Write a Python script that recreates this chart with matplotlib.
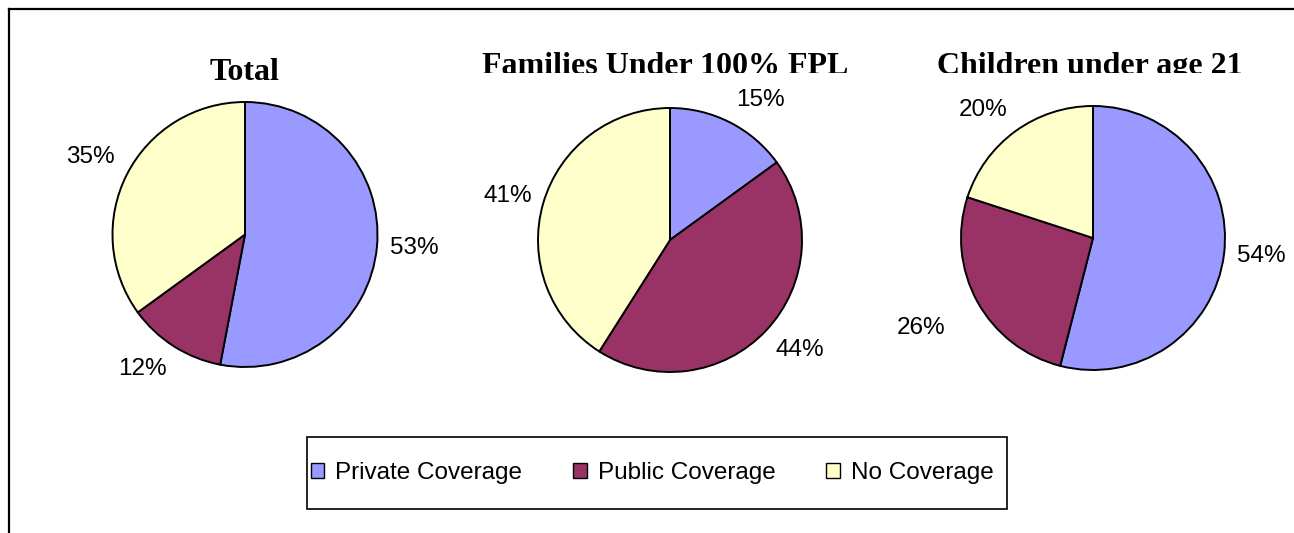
import matplotlib as mpl
mpl.use('Agg')
import matplotlib.pyplot as plt
import numpy as np
from matplotlib.patches import Patch, Rectangle
from matplotlib.lines import Line2D
from matplotlib.transforms import Bbox, TransformedBbox

# data
groups = ['Total', 'Families Under 100% FPL', 'Children under age 21']
categories = ['Private Coverage', 'Public Coverage', 'No Coverage']
private_cov = [53, 15, 54]
public_cov = [12, 44, 26]
no_cov = [35, 41, 20]

colors = ['#9999FF', '#993366', '#FFFFCC']

W, H = 1294, 533
fig = plt.figure(figsize=(W / 100, H / 100), dpi=100)
fig.patch.set_facecolor('white')

sans = ['Liberation Sans', 'DejaVu Sans']
serif = ['Liberation Serif', 'DejaVu Serif']
label_fs = 17.5

# pie layout in pixels (center x, center y from top, radius)
pie_geom = [(245, 234.5, 132.5), (670, 240, 132), (1093, 238, 132)]
# title placement: (x center, baseline from top, clip line or None)
title_geom = [(245, 80, None), (665, 74, 72.5), (1090, 74, 72.5)]
# hand-moved labels in the original: (group, slice) -> (x, y, ha, va) in radius units
label_moves = {(1, 2): (-1.045, 0.333, 'right', 'center'),
               (2, 1): (-1.12, -0.68, 'right', 'center')}

for gi, name in enumerate(groups):
    vals = [private_cov[gi], public_cov[gi], no_cov[gi]]
    cx, cy, r = pie_geom[gi]
    ax = fig.add_axes([(cx - r) / W, (H - cy - r) / H, 2 * r / W, 2 * r / H])
    wedges, _ = ax.pie(vals, colors=colors, startangle=90, counterclock=False,
                       wedgeprops=dict(edgecolor='black', linewidth=1.4))
    for w in wedges:
        w.set_clip_on(False)
    ax.set_xlim(-1, 1)
    ax.set_ylim(-1, 1)
    ax.set_aspect('equal')
    ax.axis('off')

    for si, w in enumerate(wedges):
        if (gi, si) in label_moves:
            x, y, ha, va = label_moves[(gi, si)]
        else:
            th = np.deg2rad((w.theta1 + w.theta2) / 2)
            x, y = 1.1 * np.cos(th), 1.1 * np.sin(th)
            ha = 'center' if abs(np.cos(th)) < 0.2 else ('left' if np.cos(th) > 0 else 'right')
            va = 'center' if abs(np.sin(th)) < 0.3 else ('bottom' if np.sin(th) > 0 else 'top')
        ax.text(x, y, f'{vals[si]}%', ha=ha, va=va, fontsize=label_fs, family=sans)

    tx, tb, clip = title_geom[gi]
    t = fig.text(tx / W, 1 - tb / H, name, ha='center', va='baseline',
                 fontsize=23, fontweight='bold', family=serif)
    if clip is not None:
        t.set_clip_box(TransformedBbox(Bbox([[0, 1 - clip / H], [1, 1]]), fig.transFigure))
        t.set_clip_on(True)

# legend
handles = [Patch(facecolor=c, edgecolor='black', linewidth=1.0) for c in colors]
fig.legend(handles, categories, loc='center left', bbox_to_anchor=(311 / W, 1 - 473 / H),
           ncol=3, frameon=False, prop={'family': sans, 'size': label_fs},
           borderpad=0, borderaxespad=0, handlelength=0.55, handleheight=0.55,
           handletextpad=0.45, columnspacing=2.1)
fig.add_artist(Rectangle((307 / W, 1 - 509 / H), 700 / W, 72 / H, transform=fig.transFigure,
                         fill=False, edgecolor='black', linewidth=1.2))

# outer chart border (runs off the right and bottom edges)
fig.add_artist(Line2D([9 / W, 1], [1 - 9 / H, 1 - 9 / H], transform=fig.transFigure,
                      color='black', linewidth=1.6))
fig.add_artist(Line2D([9 / W, 9 / W], [0, 1 - 9 / H], transform=fig.transFigure,
                      color='black', linewidth=1.6))

plt.savefig('out.png', dpi=100, facecolor='white')
plt.close()
